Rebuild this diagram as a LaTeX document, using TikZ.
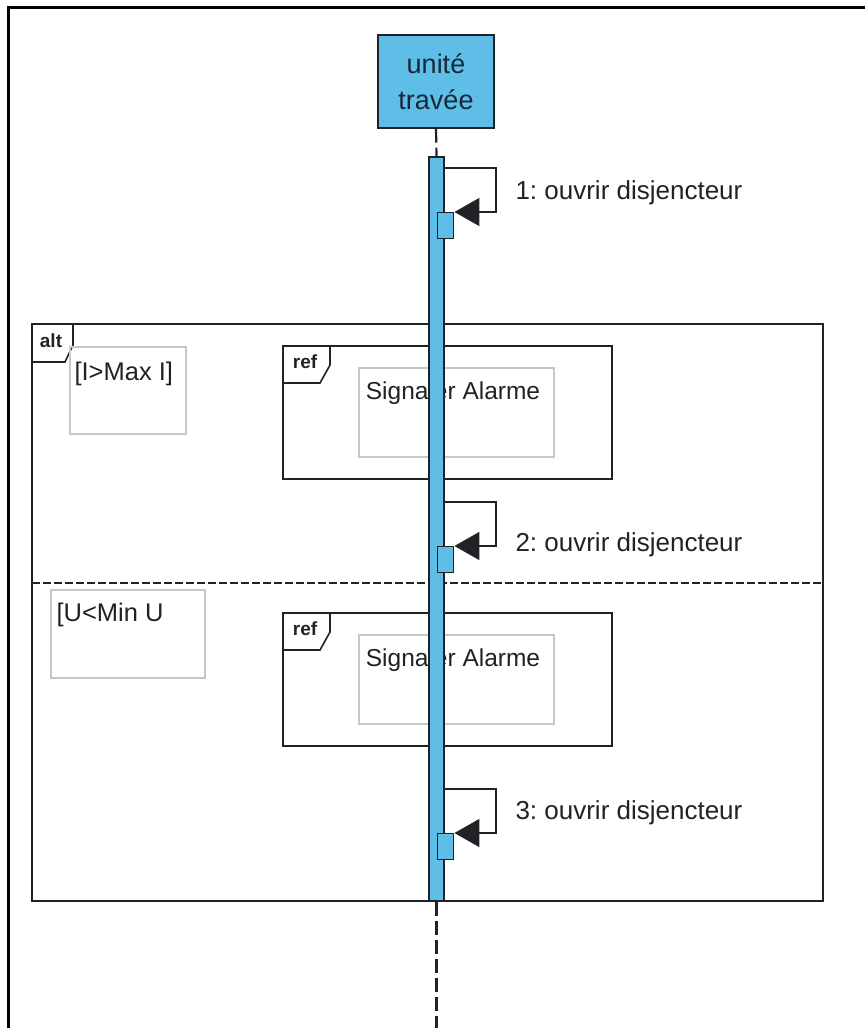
\documentclass[tikz,border=0pt]{standalone}
\usepackage{fontspec}
\setmainfont{Liberation Sans}
\usetikzlibrary{arrows.meta}
\usetikzlibrary{positioning}
\usepackage{xcolor}
\frenchspacing

\definecolor{lifeblue}{RGB}{94,190,232}
\definecolor{ink}{RGB}{32,34,38}
\definecolor{headink}{RGB}{24,40,56}

\tikzset{
  frame/.style={draw=ink,line width=1.6pt},
  guardbox/.style={draw=black!22,line width=1.2pt},
  fragtag/.style={font=\bfseries\fontsize{19}{20}\selectfont,text=ink},
  txt/.style={font=\fontsize{26}{30}\selectfont,text=ink},
  bar/.style={draw=ink,fill=lifeblue,line width=1.4pt,inner sep=0pt},
  lifedash/.style={draw=ink,line width=2.2pt,dash pattern=on 14pt off 5pt},
  call/.style={draw=ink,line width=1.4pt,-{Triangle[length=25pt,width=28pt]}},
}

\begin{document}
\begin{tikzpicture}[x=1pt,y=-1pt]
\useasboundingbox (0,0) rectangle (865,1028);
% page border, left and top
\draw[line width=3pt] (8,1028) -- (8,7) -- (865,7);

% alt fragment
\draw[frame] (32,324) rectangle (823,901);
\draw[frame] (32,362) -- (65,362) -- (73,345) -- (73,324);
\node[fragtag] (alttag) at (51,341) {alt};
\draw[frame,dash pattern=on 8pt off 3pt] (32,583) -- (823,583);

% guards
\draw[guardbox] (70,347) rectangle (186,434);
\node[txt,anchor=west,font=\fontsize{25.5}{30}\selectfont] (guard1) at (71,374) {[I>Max I]};
\draw[guardbox] (51,590) rectangle (205,678);
\node[txt,anchor=west,font=\fontsize{25.5}{30}\selectfont] (guard2) at (53,615) {[U<Min U};

% ref fragments
\foreach \k/\y in {1/346,2/613} {
  \draw[frame] (283,\y) rectangle (612,\y+133);
  \draw[frame] (283,\y+37) -- (320,\y+37) -- (330,\y+19) -- (330,\y);
  \node[fragtag] (reftag\k) at (305,\y+16) {ref};
  \draw[guardbox] (359,\y+22) rectangle (554,\y+111);
  \node[txt,font=\fontsize{24.5}{30}\selectfont] (ref\k) at (453,\y+47) {Signaler Alarme};
}

% lifeline
\node[bar,minimum width=116pt,minimum height=93pt,align=center,
      font=\fontsize{27}{36}\selectfont,text=headink] (head) at (436,81.5) {unité\\travée};
\node[bar,minimum width=15pt,minimum height=744pt] (life) at (436.5,529) {};
\coordinate (lifeend) at (436.5,1028);
\draw[lifedash] (head.south) -- (life.north);
\draw[lifedash] (life.south) -- (lifeend);

% self calls
\foreach \k/\t/\l in {1/168/193,2/502/545,3/789/813} {
  \coordinate (start\k) at (444,\t);
  \node[bar,minimum width=16pt,minimum height=26pt,anchor=north west] (exec\k) at (437,\t+44) {};
  \draw[call] (start\k) -- ++(52,0) -- ++(0,44) -- (exec\k.north east);
  \node[txt,anchor=west] (msg\k) at (512,\l) {\k: ouvrir disjencteur};
}
\end{tikzpicture}
\end{document}
